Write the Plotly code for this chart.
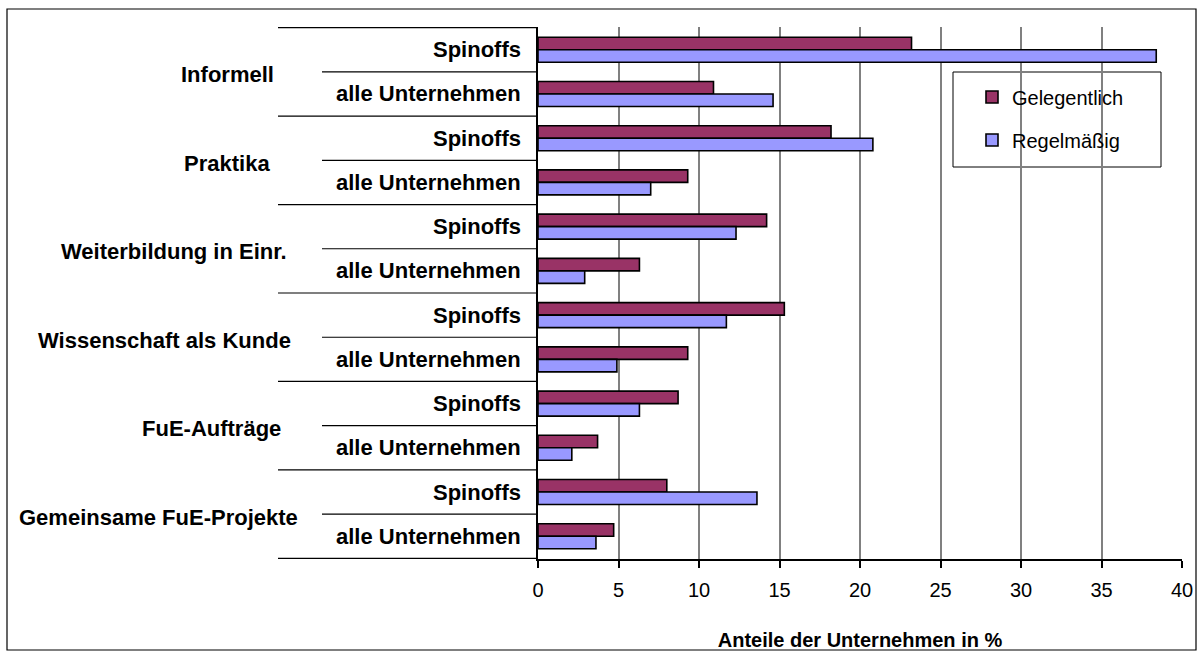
import plotly.graph_objects as go

# ---------------- data ----------------
groups = ["Informell", "Praktika", "Weiterbildung in Einr.", "Wissenschaft als Kunde",
          "FuE-Aufträge", "Gemeinsame FuE-Projekte"]
subgroups = ["Spinoffs", "alle Unternehmen"]
series_names = ["Gelegentlich", "Regelmäßig"]
gelegentlich = [23.2, 10.9, 18.2, 9.3, 14.2, 6.3, 15.3, 9.3, 8.7, 3.7, 8.0, 4.7]
regelmaessig = [38.4, 14.6, 20.8, 7.0, 12.3, 2.9, 11.7, 4.9, 6.3, 2.1, 13.6, 3.6]
x_ticks = [0, 5, 10, 15, 20, 25, 30, 35, 40]
x_title = "Anteile der Unternehmen in %"

# ---------------- styling ----------------
FONT = "Liberation Sans, Arial, sans-serif"
COL_G = "#993366"
COL_R = "#9999FF"
W, H = 1201, 657
PL, PR, PT, PB = 538, 1182, 27, 559          # plot area in pixels
PW, PH = PR - PL, PB - PT
GROUP_LABEL_CENTER_PX = [227, 227, 174, 164, 211, 158]
LABEL_SIZE = 22


def px_x(p):
    return (p - PL) / PW


def px_y(p):
    return (PB - p) / PH


keys = [f"{g}|{s}" for g in groups for s in subgroups]

fig = go.Figure()
fig.add_trace(go.Bar(y=keys, x=gelegentlich, orientation="h", name=series_names[0],
                     marker=dict(color=COL_G, line=dict(color="black", width=1.6)),
                     legend="legend", showlegend=True))
fig.add_trace(go.Bar(y=keys, x=regelmaessig, orientation="h", name=series_names[1],
                     marker=dict(color=COL_R, line=dict(color="black", width=1.6)),
                     legend="legend2", showlegend=True))

shapes = []
# dividers in the category label area
for i in range(len(keys) + 1):
    x0 = px_x(278) if i % 2 == 0 else px_x(322)
    shapes.append(dict(type="line", xref="paper", yref="y", x0=x0, x1=0,
                       y0=i - 0.5, y1=i - 0.5, line=dict(color="black", width=1.2)))
# legend box (between gridlines and bars, legends drawn on top)
shapes.append(dict(type="rect", xref="paper", yref="paper",
                   x0=px_x(953), x1=px_x(1161), y0=px_y(167), y1=px_y(72),
                   line=dict(color="black", width=1), fillcolor="white", layer="between"))
# outer chart border
shapes.append(dict(type="rect", xref="paper", yref="paper",
                   x0=px_x(7), x1=px_x(1196), y0=px_y(650), y1=px_y(9),
                   line=dict(color="black", width=1.2)))

annotations = []
for i, k in enumerate(keys):
    annotations.append(dict(x=0, y=i, xref="paper", yref="y", xanchor="right",
                            yanchor="middle", xshift=-15, showarrow=False,
                            text=f"<b>{subgroups[i % 2]}</b>",
                            font=dict(family=FONT, size=LABEL_SIZE, color="black")))
for gi, g in enumerate(groups):
    annotations.append(dict(x=px_x(GROUP_LABEL_CENTER_PX[gi]), y=2 * gi + 0.5,
                            xref="paper", yref="y", xanchor="center", yanchor="middle",
                            yshift=-3, showarrow=False, text=f"<b>{g}</b>",
                            font=dict(family=FONT, size=LABEL_SIZE, color="black")))

fig.update_layout(
    width=W, height=H,
    margin=dict(l=PL, r=W - PR, t=PT, b=H - PB, pad=0, autoexpand=False),
    paper_bgcolor="white", plot_bgcolor="white",
    barmode="group", bargap=0.435, bargroupgap=0,
    showlegend=True,
    font=dict(family=FONT, size=20, color="black"),
    xaxis=dict(range=[0, 40], tickvals=x_ticks, ticks="outside", ticklen=7,
               tickcolor="black", tickwidth=1.5, showline=True, linecolor="black",
               linewidth=1.5, showgrid=True, gridcolor="#808080", gridwidth=1.5,
               zeroline=False, tickfont=dict(size=20), ticklabelstandoff=5,
               automargin=False,
               title=dict(text=f"<b>{x_title}</b>", font=dict(size=20), standoff=33)),
    yaxis=dict(type="category", categoryarray=keys, autorange="reversed",
               showticklabels=False, ticks="", showline=True, linecolor="black",
               linewidth=1.5, showgrid=False, zeroline=False, automargin=False),
    legend=dict(x=px_x(972), y=px_y(97), xanchor="left", yanchor="middle",
                bgcolor="rgba(0,0,0,0)", borderwidth=0,
                font=dict(family=FONT, size=20, color="black")),
    legend2=dict(x=px_x(972), y=px_y(140), xanchor="left", yanchor="middle",
                 bgcolor="rgba(0,0,0,0)", borderwidth=0,
                 font=dict(family=FONT, size=20, color="black")),
    shapes=shapes, annotations=annotations,
)

fig.write_html("out.html", config={"displayModeBar": False},
               post_script="document.body.style.margin='0px';")
